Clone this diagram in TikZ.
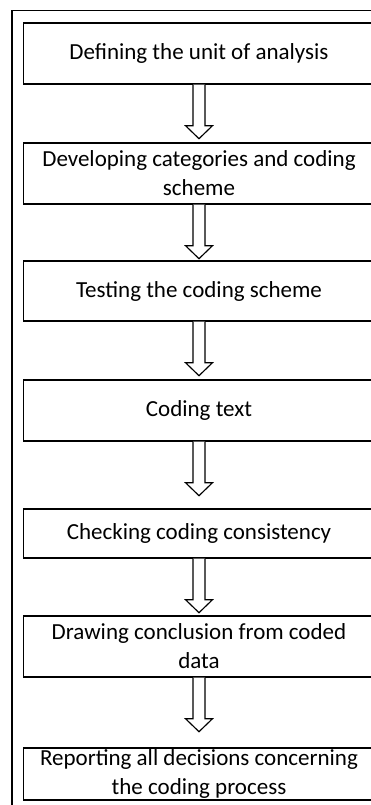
\documentclass[tikz,border=0pt]{standalone}
\usepackage{fontspec}
\setmainfont{Carlito}
\begin{document}
\begin{tikzpicture}[x=1pt,y=1pt,
  stagebox/.style={draw=black, line width=1.4pt, fill=white, minimum width=351.5pt,
    align=center, inner sep=0pt,
    font=\fontsize{23}{29}\selectfont},
  hollowdown/.pic={
    \draw[line width=1.15pt, fill=white, line join=miter]
      (-6,0) -- (-6,-41) -- (-13.5,-41) -- (0,-54) -- (13.5,-41) -- (6,-41) -- (6,0);
  }]
\useasboundingbox (0,0) rectangle (371,805);
\clip (0,0) rectangle (371,805);
% outer frame, running off the right and bottom edges
\draw[line width=1.3pt] (12,-20) -- (12,794.5) -- (400,794.5);
% the seven stages
\node[stagebox, minimum height=61pt] (b1) at (199,751.5) {Defining the unit of analysis};
\node[stagebox, minimum height=61pt] (b2) at (199,631.5) {Developing categories and coding\\scheme};
\node[stagebox, minimum height=60pt] (b3) at (199,514) {Testing the coding scheme};
\node[stagebox, minimum height=61pt] (b4) at (199,394.5) {Coding text};
\node[stagebox, minimum height=49pt] (b5) at (199,271.5) {Checking coding consistency};
\node[stagebox, minimum height=61pt] (b6) at (199,158.5) {Drawing conclusion from coded\\data};
\node[stagebox, minimum height=52pt] (b7) at (199,31) {Reporting all decisions concerning\\the coding process};
% hollow block arrows between the stages
\foreach \n in {b1,b2,b3,b4,b5,b6}
  \pic at (\n.south) {hollowdown};
\end{tikzpicture}
\end{document}
